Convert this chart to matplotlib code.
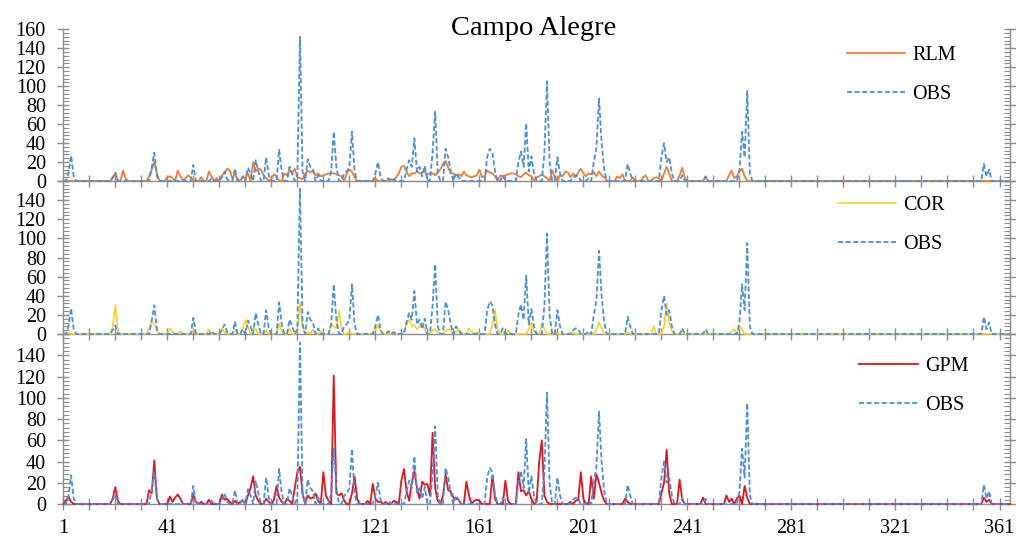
import matplotlib
matplotlib.use("Agg")
import matplotlib.pyplot as plt
import numpy as np
from matplotlib.ticker import MultipleLocator, FixedLocator

plt.rcParams['font.family'] = ['Liberation Serif', 'DejaVu Serif']

# daily rainfall, Campo Alegre (day of year, mm) - only non-zero days listed
obs_pairs = [
    (3, 8), (4, 27), (5, 5), (20, 4), (21, 9), (35, 14), (36, 30), (37, 5),
    (51, 17), (58, 3), (62, 4), (63, 10), (64, 2), (67, 13), (70, 5),
    (72, 14), (73, 8), (75, 22), (76, 10), (79, 25), (80, 6), (84, 33),
    (85, 10), (88, 15), (89, 8), (91, 5), (92, 152), (93, 10), (95, 23),
    (96, 15), (97, 12), (99, 6), (104, 10), (105, 52), (106, 15), (109, 8),
    (110, 10), (111, 15), (112, 52), (113, 10), (121, 8), (122, 20), (123, 4),
    (126, 3), (128, 2), (133, 12), (134, 22), (135, 15), (136, 45), (137, 10),
    (138, 15), (139, 5), (140, 16), (143, 30), (144, 73), (145, 8), (148, 34),
    (149, 25), (150, 10), (152, 8), (153, 4), (164, 25), (165, 34), (166, 30),
    (167, 10), (170, 6), (176, 20), (177, 31), (178, 15), (179, 61), (180, 10),
    (181, 26), (182, 8), (186, 30), (187, 105), (188, 20), (191, 25), (192, 8),
    (197, 4), (198, 6), (199, 5), (203, 3), (205, 20), (206, 35), (207, 87),
    (208, 40), (209, 12), (218, 18), (219, 8), (231, 25), (232, 40), (233, 20),
    (234, 25), (235, 8), (239, 6), (248, 5), (261, 12), (262, 52), (263, 25),
    (264, 95), (265, 8), (355, 18), (356, 5), (357, 12),
]

rlm_pairs = [
    (20, 3), (21, 8), (24, 11), (25, 2), (34, 5), (35, 12), (36, 20), (37, 8),
    (41, 4), (42, 5), (43, 3), (45, 11), (46, 5), (48, 3), (49, 6), (50, 4),
    (54, 4), (57, 10), (58, 5), (60, 3), (62, 6), (63, 8), (64, 13), (65, 11),
    (66, 3), (67, 7), (68, 2), (70, 4), (71, 3), (72, 8), (74, 20), (75, 10),
    (76, 13), (77, 12), (78, 6), (79, 3), (81, 2), (82, 7), (83, 5), (86, 8),
    (87, 6), (88, 12), (89, 8), (90, 13), (91, 4), (92, 3), (93, 2), (94, 8),
    (95, 11), (96, 9), (97, 11), (98, 6), (99, 8), (100, 5), (101, 6),
    (102, 7), (103, 8), (104, 8), (105, 8), (106, 7), (107, 6), (108, 5),
    (110, 8), (111, 12), (112, 10), (113, 4), (121, 3), (127, 2), (129, 4),
    (130, 8), (131, 15), (132, 16), (133, 10), (134, 5), (135, 8), (136, 8),
    (137, 10), (138, 8), (139, 9), (140, 10), (141, 7), (142, 8), (143, 8),
    (144, 6), (145, 9), (146, 12), (147, 18), (148, 21), (149, 14), (150, 8),
    (151, 8), (152, 6), (153, 7), (154, 5), (155, 10), (156, 6), (157, 5),
    (158, 4), (159, 5), (160, 6), (161, 12), (162, 4), (163, 5), (164, 11),
    (165, 9), (166, 8), (167, 5), (169, 6), (170, 5), (171, 6), (172, 7),
    (173, 8), (174, 8), (175, 7), (176, 5), (177, 4), (178, 7), (179, 9),
    (180, 6), (181, 5), (183, 4), (184, 5), (185, 7), (186, 5), (187, 3),
    (189, 11), (190, 4), (192, 6), (193, 5), (194, 10), (195, 9), (196, 4),
    (197, 8), (198, 4), (199, 9), (200, 13), (201, 8), (202, 5), (203, 8),
    (204, 7), (205, 9), (206, 5), (207, 10), (208, 6), (209, 4), (214, 5),
    (215, 3), (216, 7), (220, 4), (224, 4), (225, 6), (228, 3), (229, 4),
    (230, 3), (232, 8), (233, 15), (234, 8), (238, 6), (239, 14), (240, 3),
    (248, 4), (257, 6), (258, 11), (259, 3), (260, 5), (261, 10), (262, 13),
    (263, 5),
]

cor_pairs = [
    (3, 1), (20, 8), (21, 30), (22, 3), (34, 6), (35, 13), (36, 10), (37, 3),
    (42, 6), (43, 2), (46, 3), (51, 4), (57, 5), (62, 6), (63, 2), (67, 5),
    (70, 6), (71, 15), (72, 8), (74, 6), (75, 5), (79, 4), (84, 11), (85, 3),
    (88, 6), (91, 3), (92, 33), (93, 8), (95, 2), (97, 5), (100, 3),
    (104, 10), (105, 8), (106, 6), (107, 24), (108, 5), (111, 3), (121, 4),
    (122, 9), (123, 3), (128, 2), (132, 3), (133, 10), (134, 15), (135, 8),
    (136, 10), (137, 5), (138, 8), (139, 12), (140, 4), (143, 4), (144, 5),
    (145, 2), (148, 3), (149, 5), (150, 4), (152, 2), (153, 5), (154, 2),
    (157, 6), (158, 2), (160, 2), (166, 10), (167, 25), (168, 5), (172, 4),
    (180, 5), (181, 12), (182, 3), (185, 11), (186, 5), (190, 2), (197, 2),
    (206, 5), (207, 12), (208, 6), (218, 2), (228, 8), (232, 8), (233, 32),
    (234, 12), (235, 3), (239, 3), (258, 3), (259, 5), (261, 8), (262, 5),
]

gpm_pairs = [
    (2, 3), (3, 7), (4, 2), (20, 5), (21, 16), (22, 3), (34, 13), (35, 10),
    (36, 41), (37, 5), (42, 7), (43, 2), (44, 6), (45, 9), (46, 5), (51, 9),
    (52, 2), (54, 2), (57, 4), (62, 9), (63, 4), (64, 5), (65, 2), (67, 3),
    (69, 2), (70, 3), (72, 8), (73, 15), (74, 26), (75, 8), (76, 3), (79, 5),
    (80, 2), (82, 4), (83, 17), (84, 6), (85, 2), (87, 5), (88, 3), (90, 15),
    (91, 30), (92, 35), (93, 10), (95, 8), (96, 5), (97, 6), (98, 10),
    (99, 3), (101, 30), (102, 8), (103, 3), (105, 121), (106, 10), (107, 8),
    (108, 10), (109, 3), (112, 10), (113, 26), (114, 5), (118, 3), (120, 19),
    (121, 5), (122, 2), (123, 2), (125, 2), (128, 3), (129, 2), (131, 22),
    (132, 33), (133, 12), (134, 3), (135, 20), (136, 31), (137, 15), (138, 5),
    (139, 21), (140, 18), (141, 19), (142, 8), (143, 67), (144, 15), (145, 3),
    (147, 8), (148, 28), (149, 13), (150, 12), (151, 6), (152, 5), (153, 4),
    (156, 21), (157, 8), (159, 3), (160, 4), (161, 3), (166, 27), (167, 5),
    (171, 22), (172, 3), (176, 30), (177, 12), (178, 13), (179, 8),
    (180, 12), (181, 5), (183, 2), (184, 40), (185, 60), (186, 8), (187, 2),
    (196, 2), (198, 3), (199, 4), (200, 30), (201, 5), (204, 26), (205, 5),
    (206, 28), (207, 20), (208, 10), (209, 3), (217, 5), (218, 2), (231, 10),
    (232, 20), (233, 51), (234, 10), (238, 23), (239, 4), (247, 6), (256, 8),
    (257, 2), (258, 5), (260, 5), (261, 8), (263, 17), (264, 6), (355, 6),
    (356, 2), (357, 4),
]

days = np.arange(1, 366)


def daily(pairs):
    s = np.zeros(len(days))
    for d, v in pairs:
        s[d - 1] = v
    return s


obs = daily(obs_pairs)
panels = [
    ("RLM", daily(rlm_pairs), "#ED7D31", 1.3),
    ("COR", daily(cor_pairs), "#FFCC1A", 1.1),
    ("GPM", daily(gpm_pairs), "#E3141B", 1.3),
]

grey = "#8c8c8c"
fig = plt.figure(figsize=(10.16, 5.39), dpi=100)

# axes boxes: left, bottom, width, height (figure fraction)
boxes = [
    [0.0623, 0.6642, 0.9317, 0.2814],
    [0.0623, 0.3803, 0.9317, 0.2839],
    [0.0623, 0.0649, 0.9317, 0.3154],
]
legend_at = [(0.828, 0.892), (0.818, 0.902), (0.841, 0.866)]

for i, (name, model, col, lw) in enumerate(panels):
    ax = fig.add_axes(boxes[i])
    ax.patch.set_alpha(0)
    ax.plot(days, model, color=col, lw=lw, label=name, zorder=3, clip_on=False)
    ax.plot(days, obs, color="#4A8FDB", lw=1.3, dashes=(2.8, 1.4),
            label="OBS", zorder=4, clip_on=False)

    ax.set_xlim(1, 365)
    ax.set_ylim(0, 160)

    ax.spines["top"].set_visible(False)
    for s in ["left", "right", "bottom"]:
        ax.spines[s].set_color(grey)
        ax.spines[s].set_linewidth(1.0)

    ax.yaxis.set_major_locator(MultipleLocator(20))
    ax.yaxis.set_minor_locator(MultipleLocator(4))
    if i > 0:
        ax.set_yticks(np.arange(0, 161, 20))
        ax.set_yticklabels([str(v) if v < 160 else "" for v in range(0, 161, 20)])
    ax.tick_params(axis="y", which="major", direction="inout", length=9,
                   width=1, color=grey, labelsize=14.5, pad=8,
                   left=True, right=True)
    ax.tick_params(axis="y", which="minor", direction="in", length=4,
                   width=0.8, color=grey, left=True, right=True)

    ax.xaxis.set_major_locator(FixedLocator(np.arange(1, 362, 40)))
    ax.xaxis.set_minor_locator(FixedLocator(np.arange(11, 366, 10)))
    ax.tick_params(axis="x", which="both", direction="inout", length=9,
                   width=1, color=grey, labelsize=14.5, pad=6)
    if i < 2:
        ax.tick_params(axis="x", which="both", labelbottom=False)

    ax.legend(loc="upper left", bbox_to_anchor=legend_at[i], frameon=False,
              fontsize=14.5, handlelength=2.9, handletextpad=0.35,
              labelspacing=1.0, borderpad=0, borderaxespad=0)

fig.text(0.525, 0.948, "Campo Alegre", ha="center", va="center", fontsize=20.5)

fig.savefig("out.png", dpi=100)
